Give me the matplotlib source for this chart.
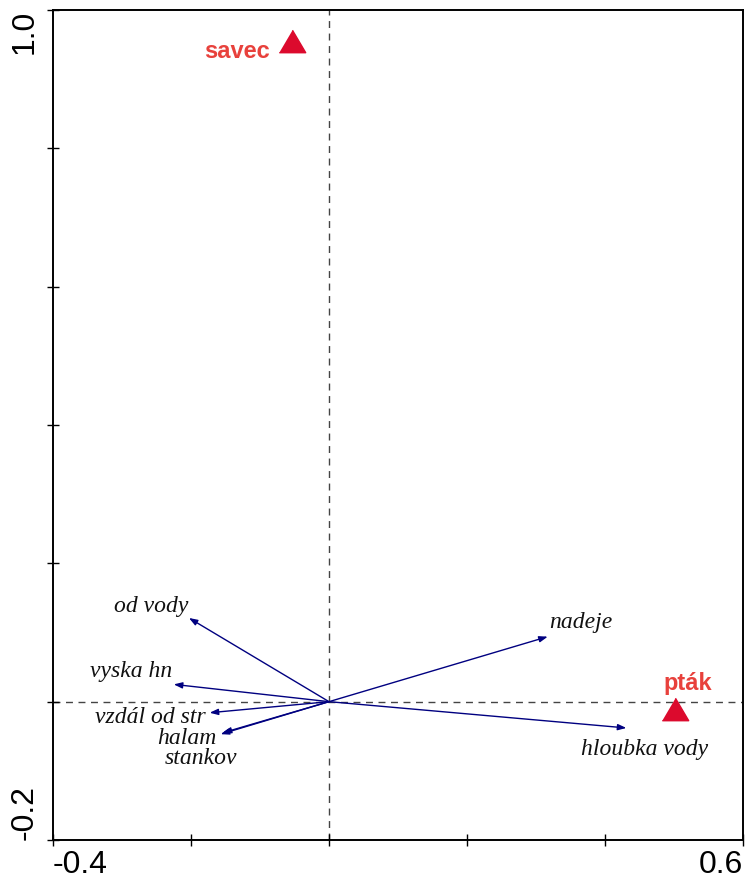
import matplotlib
matplotlib.use("Agg")
import matplotlib.pyplot as plt

# environmental variables (arrow tips in ordination space)
env_names = ["od vody", "vyska hn", "vzdál od str", "halam", "stankov", "nadeje", "hloubka vody"]
env_x = [-0.203, -0.225, -0.173, -0.157, -0.154, 0.317, 0.431]
env_y = [0.121, 0.025, -0.016, -0.047, -0.045, 0.094, -0.038]

# species centroids
sp_names = ["savec", "pták"]
sp_x = [-0.054, 0.501]
sp_y = [0.955, -0.011]

xticks = [-0.4, -0.2, 0.0, 0.2, 0.4, 0.6]
yticks = [-0.2, 0.0, 0.2, 0.4, 0.6, 0.8, 1.0]

# label placement: (ha, offset px)
env_lab = {
    "od vody": ("right", (-1, 6)),
    "vyska hn": ("right", (-2, 7)),
    "vzdál od str": ("right", (-4, -10)),
    "halam": ("right", (-4, -10)),
    "stankov": ("right", (14, -31)),
    "nadeje": ("left", (1, 9)),
    "hloubka vody": ("left", (-45, -27)),
}
sp_lab = {
    "savec": ("right", (-22, -17)),
    "pták": ("center", (13, 19)),
}

fig = plt.figure(figsize=(7.45, 8.83), dpi=100)
ax = fig.add_axes([53 / 745, 1 - 840 / 883, 690 / 745, 830 / 883])
ax.set_xlim(-0.4, 0.6)
ax.set_ylim(-0.2, 1.0)

ax.axhline(0, color="#444444", lw=1, ls=(0, (5, 4)), zorder=1)
ax.axvline(0, color="#444444", lw=1, ls=(0, (5, 4)), zorder=1)

for name, x, y in zip(env_names, env_x, env_y):
    ax.annotate("", xy=(x, y), xytext=(0, 0),
                arrowprops=dict(arrowstyle="-|>,head_length=0.5,head_width=0.18",
                                color="#000080", lw=1, shrinkA=0, shrinkB=0))
    ha, off = env_lab[name]
    ax.annotate(name, xy=(x, y), xytext=off, textcoords="offset pixels",
                ha=ha, va="baseline", fontsize=17, style="italic",
                family="Liberation Serif", color="#111111")

tri = [(-1, -0.85), (1, -0.85), (0, 0.85)]
ax.plot(sp_x, sp_y, ls="none", marker=tri, ms=19, color="#DC0A2D", zorder=3)
for name, x, y in zip(sp_names, sp_x, sp_y):
    ha, off = sp_lab[name]
    ax.annotate(name, xy=(x, y), xytext=off, textcoords="offset pixels",
                ha=ha, va="baseline", fontsize=17, fontweight="bold",
                family="Liberation Sans", color="#E8413C")

for s in ax.spines.values():
    s.set_linewidth(1.4)

ax.set_xticks(xticks)
ax.set_yticks(yticks)
ax.set_xticklabels(["-0.4", "", "", "", "", "0.6"])
ax.set_yticklabels(["-0.2", "", "", "", "", "", "1.0"], rotation=90)
ax.tick_params(direction="inout", length=9, width=1, labelsize=23)
ax.tick_params(axis="x", pad=3)
ax.tick_params(axis="y", pad=5)
for t in ax.get_xticklabels():
    t.set_family("Liberation Sans")
for t in ax.get_yticklabels():
    t.set_family("Liberation Sans")
ax.get_xticklabels()[0].set_ha("left")
ax.get_xticklabels()[-1].set_ha("right")
ax.get_yticklabels()[0].set_va("bottom")
ax.get_yticklabels()[-1].set_va("top")

fig.savefig("out.png", dpi=100)
